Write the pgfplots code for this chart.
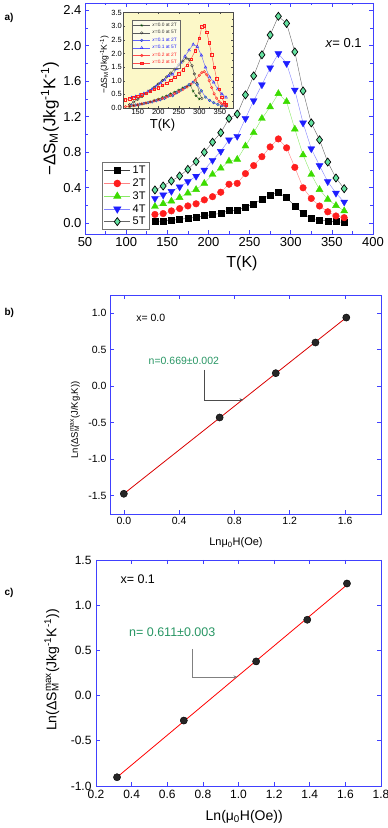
\documentclass[border=0pt]{standalone}
\usepackage{fontspec}
\setmainfont{Liberation Sans}
\usepackage{pgfplots}
\usepackage{pgfplotstable}
\pgfplotsset{compat=1.18}
\usetikzlibrary{arrows.meta}

\definecolor{frameblue}{RGB}{64,64,255}
\definecolor{cred}{RGB}{255,30,30}
\definecolor{cgreen}{RGB}{60,220,0}
\definecolor{cblue}{RGB}{30,30,255}
\definecolor{cmint}{RGB}{100,225,160}
\definecolor{ngreen}{RGB}{40,150,100}
\definecolor{insetbg}{RGB}{252,248,200}

% panel a: -dS_M vs T for x = 0.1
\pgfplotstableread{
T   s1    s2    s3    s4    s5
135 0.020 0.100 0.19 0.28 0.376
145 0.027 0.110 0.22 0.32 0.420
155 0.034 0.140 0.25 0.36 0.477
165 0.045 0.166 0.29 0.41 0.533
175 0.056 0.196 0.34 0.47 0.608
185 0.068 0.220 0.38 0.53 0.695
195 0.087 0.264 0.45 0.60 0.800
205 0.098 0.300 0.55 0.71 0.913
215 0.113 0.350 0.62 0.81 1.020
225 0.143 0.440 0.70 0.94 1.180
235 0.143 0.450 0.72 0.98 1.230
245 0.185 0.560 0.87 1.18 1.446
255 0.220 0.650 1.02 1.38 1.660
265 0.270 0.750 1.18 1.56 1.897
275 0.320 0.860 1.31 1.75 2.120
285 0.345 0.950 1.46 1.91 2.330
295 0.290 0.850 1.37 1.80 2.250
305 0.195 0.630 1.06 1.50 1.930
315 0.110 0.400 0.77 1.13 1.490
325 0.056 0.280 0.55 0.84 1.130
335 0.038 0.195 0.38 0.65 0.940
345 0.026 0.130 0.27 0.47 0.690
355 0.019 0.083 0.20 0.34 0.510
365 0.011 0.064 0.14 0.24 0.390
}\dataA

% inset series
\pgfplotstableread{
T v
130 0.05
140 0.08
150 0.11
160 0.15
170 0.19
180 0.23
190 0.28
200 0.33
210 0.39
220 0.45
230 0.52
240 0.59
250 0.66
260 0.74
270 0.80
278 0.83
285 0.62
292 0.45
300 0.33
}\inA
\pgfplotstableread{
T v
130 0.12
140 0.22
150 0.32
160 0.42
170 0.53
180 0.64
190 0.76
200 0.88
210 1.01
220 1.14
230 1.28
240 1.43
250 1.58
260 1.72
268 1.83
275 1.78
282 1.55
288 1.25
294 0.90
300 0.55
306 0.35
}\inB
\pgfplotstableread{
T v
120 0.05
130 0.07
140 0.09
150 0.12
160 0.15
170 0.18
180 0.22
190 0.26
200 0.30
210 0.35
220 0.40
230 0.46
240 0.53
250 0.60
260 0.68
270 0.77
280 0.88
290 1.02
300 1.20
306 1.30
312 1.33
318 1.22
324 1.00
330 0.75
336 0.52
342 0.36
348 0.24
354 0.16
360 0.11
366 0.08
}\inE
\pgfplotstableread{
T v
120 0.30
130 0.34
140 0.38
150 0.43
160 0.49
170 0.55
180 0.61
190 0.68
200 0.75
210 0.83
220 0.92
230 1.02
240 1.13
250 1.26
260 1.41
270 1.58
280 1.80
290 2.10
300 2.55
306 2.98
312 3.02
318 2.78
324 2.40
330 1.95
336 1.50
342 1.08
348 0.70
354 0.40
360 0.22
366 0.12
}\inF

% panels b and c
\pgfplotstableread{
x     y
0.000 -1.473
0.693 -0.428
1.099  0.179
1.386  0.599
1.609  0.941
}\dataB
\pgfplotstableread{
x     y
0.318 -0.903
0.693 -0.276
1.099  0.378
1.386  0.839
1.609  1.240
}\dataC

\pgfplotsset{
  every axis/.append style={
    scale only axis,
    tick align=inside,
    axis line style={draw=frameblue, line width=0.8pt},
    every tick/.style={frameblue, line width=0.6pt},
    major tick length=4pt, minor tick length=2.5pt,
    /pgf/number format/assume math mode=true,
  },
  dotted1/.style={mark=*, mark size=3.6pt, draw=none, mark options={draw=black, fill=black!85}},
}

\begin{document}
\begin{tikzpicture}
\useasboundingbox (0pt,0pt) rectangle (388pt,828pt);

% ---------------- panel a
\begin{axis}[
  at={(85pt,594pt)}, anchor=south west, width=288pt, height=231pt,
  xmin=50, xmax=400, ymin=-0.12, ymax=2.48,
  xtick={50,100,...,400}, ytick={0,0.4,...,2.41},
  minor tick num=1,
  yticklabel style={/pgf/number format/.cd, fixed, fixed zerofill, precision=1},
  ticklabel style={font=\fontsize{13}{13}\selectfont},
  xlabel={T(K)}, ylabel={−ΔS\textsubscript{M}(Jkg\textsuperscript{-1}K\textsuperscript{-1})},
  xlabel style={font=\fontsize{16}{16}\selectfont, at={(axis description cs:0.545,-0.125)}, anchor=center},
  ylabel style={font=\fontsize{17}{17}\selectfont, at={(axis description cs:-0.122,0.5)}, anchor=center},
  legend style={at={(0.059,0.017)}, anchor=south west, draw=black!55, line width=0.8pt, fill=white,
    font=\fontsize{11}{11}\selectfont, row sep=-0.4pt, inner sep=1.5pt},
  legend cell align=left,
  legend image code/.code={\draw[mark repeat=2, mark phase=2] plot coordinates {(0pt,0pt) (13pt,0pt) (26pt,0pt)};},
]
\addplot[black!75, mark=square*, mark size=3pt, mark options={fill=black, draw=black}] table[x=T, y=s1] {\dataA};
\addplot[cred!55, mark=*, mark size=3.3pt, mark options={fill=cred, draw=cred}] table[x=T, y=s2] {\dataA};
\addplot[cgreen!60, mark=triangle*, mark size=4pt, mark options={fill=cgreen, draw=cgreen}] table[x=T, y=s3] {\dataA};
\addplot[cblue!55, mark=triangle*, mark size=4pt, mark options={fill=cblue, draw=cblue, rotate=180}] table[x=T, y=s4] {\dataA};
\addplot[black!60, mark=diamond*, mark size=4pt, mark options={fill=cmint, draw=black, line width=0.7pt}] table[x=T, y=s5] {\dataA};
\legend{1T,2T,3T,4T,5T}
\node[anchor=west, font=\fontsize{13}{13}\selectfont] at (axis cs:338,2.03) {\textit{x}= 0.1};
\end{axis}

% ---------------- inset
\begin{axis}[
  at={(123pt,720pt)}, anchor=south west, width=110pt, height=96pt,
  axis background/.style={fill=insetbg},
  axis line style={draw=black!70, line width=0.5pt},
  every tick/.style={black!70, line width=0.4pt},
  major tick length=2pt, minor tick length=1.2pt,
  xmin=114, xmax=382, ymin=0, ymax=3.52,
  xtick={150,200,...,350}, ytick={0,0.5,...,3.51},
  minor tick num=1,
  yticklabel style={/pgf/number format/.cd, fixed, fixed zerofill, precision=1},
  ticklabel style={font=\fontsize{7.5}{7.5}\selectfont, inner sep=1pt},
  xlabel={T(K)}, ylabel={−ΔS\textsubscript{M}(Jkg\textsuperscript{-1}K\textsuperscript{-1})},
  xlabel style={font=\fontsize{13}{13}\selectfont, at={(axis description cs:0.36,-0.18)}, anchor=center},
  ylabel style={font=\fontsize{8.5}{8.5}\selectfont, at={(axis description cs:-0.17,0.45)}, anchor=center},
  legend style={at={(0.08,0.92)}, anchor=north west, draw=black!60, fill=white, fill opacity=0.6, text opacity=1,
    font=\fontsize{4.8}{4.8}\selectfont, row sep=-1.3pt, inner sep=1pt},
  legend cell align=left,
  every axis plot/.append style={line width=0.4pt},
]
\addplot[black!65, mark=star, mark size=1.4pt, mark options={draw=black!70!green}] table[x=T, y=v] {\inA};
\addplot[black!65, mark=o, mark size=1.3pt, mark options={draw=black!80, fill=yellow!40}] table[x=T, y=v] {\inB};
\addplot[cblue!70, mark=*, mark size=1.3pt, mark options={draw=cblue, fill=cgreen!70}] table[x=T, y=s2] {\dataA};
\addplot[cblue!70, mark=triangle, mark size=1.6pt, mark options={draw=cblue}] table[x=T, y=s5] {\dataA};
\addplot[cred!80, mark=o, mark size=1.3pt, mark options={draw=cred}] table[x=T, y=v] {\inE};
\addplot[cred!80, mark=square, mark size=1.2pt, mark options={draw=cred}] table[x=T, y=v] {\inF};
\legend{\textcolor{black!80}{\textit{x}=0.0 at 2T},\textcolor{black!80}{\textit{x}=0.0 at 5T},
  \textcolor{cblue}{\textit{x}=0.1 at 2T},\textcolor{cblue}{\textit{x}=0.1 at 5T},
  \textcolor{cred}{\textit{x}=0.2 at 2T},\textcolor{cred}{\textit{x}=0.2 at 5T}}
\end{axis}

% ---------------- panel b
\begin{axis}[
  at={(110pt,314pt)}, anchor=south west, width=271pt, height=219pt,
  xmin=-0.1, xmax=1.86, ymin=-1.75, ymax=1.25,
  xtick={0,0.4,...,1.61}, ytick={-1.5,-1,...,1.01},
  xticklabel style={/pgf/number format/.cd, fixed, fixed zerofill, precision=1},
  yticklabel style={/pgf/number format/.cd, fixed, fixed zerofill, precision=1},
  ticklabel style={font=\fontsize{10.5}{10.5}\selectfont},
  xlabel={Lnμ\textsubscript{0}H(Oe)},
  ylabel={Ln(ΔS\makebox[0pt][l]{\textsubscript{M}}\textsuperscript{max}(J/Kg.K))},
  xlabel style={font=\fontsize{11}{11}\selectfont, at={(axis description cs:0.465,-0.132)}, anchor=center},
  ylabel style={font=\fontsize{9.5}{9.5}\selectfont, at={(axis description cs:-0.129,0.43)}, anchor=center},
]
\addplot[red!85!black, line width=0.8pt] coordinates {(0,-1.473) (1.609,0.941)};
\addplot[dotted1] table[x=x, y=y] {\dataB};
\node[anchor=west, font=\fontsize{10.5}{10.5}\selectfont] at (axis cs:0.065,0.93) {x= 0.0};
\node[text=ngreen, font=\fontsize{10.5}{10.5}\selectfont] at (axis cs:0.434,0.352) {n=0.669±0.002};
\draw[black!70, line width=0.5pt, -{Stealth[length=4pt,width=3pt]}] (axis cs:0.579,0.224) |- (axis cs:0.865,-0.186);
\end{axis}

% ---------------- panel c
\begin{axis}[
  at={(96pt,42pt)}, anchor=south west, width=285pt, height=226pt,
  xmin=0.2, xmax=1.8, ymin=-1, ymax=1.5,
  xtick={0.2,0.4,...,1.81}, ytick={-1,-0.5,...,1.51},
  xticklabel style={yshift=-1pt, /pgf/number format/.cd, fixed, fixed zerofill, precision=1},
  yticklabel style={xshift=-1pt, /pgf/number format/.cd, fixed, fixed zerofill, precision=1},
  ticklabel style={font=\fontsize{12}{12}\selectfont},
  xlabel={Ln(μ\textsubscript{0}H(Oe))},
  ylabel={Ln(ΔS\makebox[0pt][l]{\textsubscript{M}}\textsuperscript{max}(Jkg\textsuperscript{-1}K\textsuperscript{-1}))},
  xlabel style={font=\fontsize{14}{14}\selectfont, at={(axis description cs:0.52,-0.137)}, anchor=center},
  ylabel style={font=\fontsize{14}{14}\selectfont, at={(axis description cs:-0.155,0.513)}, anchor=center},
]
\addplot[red, line width=0.8pt] coordinates {(0.318,-0.903) (1.615,1.235)};
\addplot[dotted1] table[x=x, y=y] {\dataC};
\node[anchor=west, font=\fontsize{12.5}{12.5}\selectfont] at (axis cs:0.318,1.285) {x= 0.1};
\node[text=ngreen, font=\fontsize{12.5}{12.5}\selectfont] at (axis cs:0.628,0.70) {n= 0.611±0.003};
\draw[black!50, line width=0.6pt, -{Stealth[length=4pt,width=3pt]}] (axis cs:0.74,0.516) |- (axis cs:0.994,0.207);
\end{axis}

% panel letters
\node[anchor=west, font=\bfseries\fontsize{10}{10}\selectfont] at (1pt,810pt) {a)};
\node[anchor=west, font=\bfseries\fontsize{10}{10}\selectfont] at (1pt,515pt) {b)};
\node[anchor=west, font=\bfseries\fontsize{10}{10}\selectfont] at (1pt,235pt) {c)};
\end{tikzpicture}
\end{document}
